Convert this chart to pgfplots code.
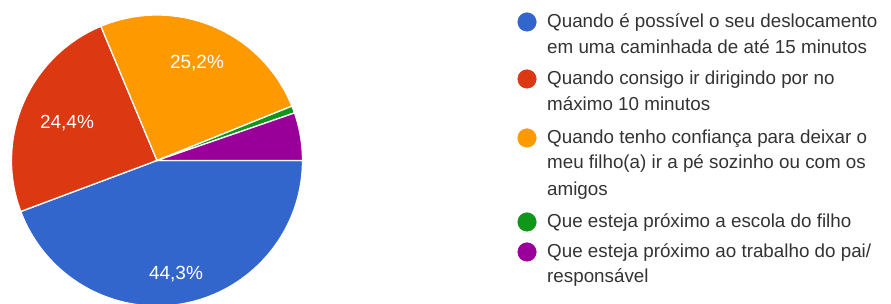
\documentclass[border=0pt]{standalone}
\usepackage{fontspec}
\setmainfont{Liberation Sans}
\usepackage{pgfplots}
\pgfplotsset{compat=1.18}
\definecolor{gblue}{HTML}{3366CC}
\definecolor{gred}{HTML}{DC3912}
\definecolor{gorange}{HTML}{FF9900}
\definecolor{ggreen}{HTML}{109618}
\definecolor{gpurple}{HTML}{990099}
\definecolor{txt}{HTML}{333333}
% start percentage, share (percent), colour
\newcommand{\slice}[3]{\fill[#3, draw=white, line width=1.3pt] (axis cs:157,143.5) -- ++({-3.6*(#1)}:145.5pt) arc[start angle={-3.6*(#1)}, end angle={-3.6*((#1)+(#2))}, radius=145.5pt] -- cycle;}
\newcommand{\legline}[2]{\node[anchor=base west, text=txt, font=\fontsize{18.8}{22}\selectfont, inner sep=0pt] at (axis cs:547,{#1}) {#2};}
\begin{document}
\begin{tikzpicture}
\begin{axis}[scale only axis, width=891pt, height=304pt, xmin=0, xmax=891, ymin=0, ymax=304, hide axis, clip=false]
\slice{0}{44.3}{gblue}
\slice{44.3}{24.4}{gred}
\slice{68.7}{25.2}{gorange}
\slice{93.9}{0.8}{ggreen}
\slice{94.7}{5.3}{gpurple}
\node[anchor=base, text=white, font=\fontsize{19}{22}\selectfont, inner sep=0pt] at (axis cs:176,24.2) {44,3\%};
\node[anchor=base, text=white, font=\fontsize{19}{22}\selectfont, inner sep=0pt] at (axis cs:67,175.2) {24,4\%};
\node[anchor=base, text=white, font=\fontsize{19}{22}\selectfont, inner sep=0pt] at (axis cs:197,235.2) {25,2\%};
% legend markers
\addplot[only marks, mark=*, mark size=9.3pt, color=gblue] coordinates {(527,282)};
\addplot[only marks, mark=*, mark size=9.3pt, color=gred] coordinates {(527,225)};
\addplot[only marks, mark=*, mark size=9.3pt, color=gorange] coordinates {(527,166)};
\addplot[only marks, mark=*, mark size=9.3pt, color=ggreen] coordinates {(527,82)};
\addplot[only marks, mark=*, mark size=9.3pt, color=gpurple] coordinates {(527,52)};
% legend text (baselines)
\legline{276}{Quando é possível o seu deslocamento}
\legline{250}{em uma caminhada de até 15 minutos}
\legline{219}{Quando consigo ir dirigindo por no}
\legline{193}{máximo 10 minutos}
\legline{160}{Quando tenho confiança para deixar o}
\legline{135}{meu filho(a) ir a pé sozinho ou com os}
\legline{108}{amigos}
\legline{76}{Que esteja próximo a escola do filho}
\legline{46}{Que esteja próximo ao trabalho do pai/}
\legline{21}{responsável}
\end{axis}
\pgfresetboundingbox
\useasboundingbox (0,0) rectangle (891pt,304pt);
\end{tikzpicture}
\end{document}
